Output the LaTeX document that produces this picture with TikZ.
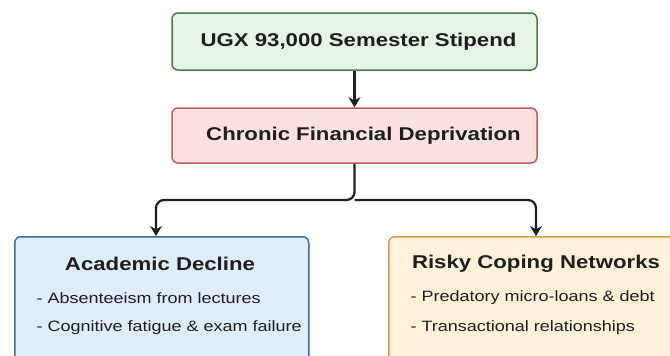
\documentclass[tikz,border=0pt]{standalone}
\usepackage{fontspec}
\setmainfont[FakeStretch=1.2]{Liberation Sans}
\usetikzlibrary{arrows.meta}
\definecolor{stgreen}{HTML}{E6F4E5}
\definecolor{dkgreen}{HTML}{4B7A50}
\definecolor{stred}{HTML}{FBE1E1}
\definecolor{dkred}{HTML}{C25A5B}
\definecolor{stblue}{HTML}{DFECFA}
\definecolor{dkblue}{HTML}{3D6BA7}
\definecolor{stgold}{HTML}{FDF1DA}
\definecolor{dkgold}{HTML}{D3A14B}
\definecolor{inkgray}{HTML}{1E1E1E}

\begin{document}
\begin{tikzpicture}[
    x=1pt, y=1pt,
    >={Stealth[length=10pt, width=12pt]},
    every node/.style={text=inkgray},
    stagebox/.style={draw, line width=1.5pt, rounded corners=6pt,
      inner sep=0pt, font=\fontsize{18.5}{22}\selectfont\bfseries},
    outbox/.style={draw, line width=1.5pt, rounded corners=6pt, inner sep=0pt},
    outhead/.style={font=\fontsize{18.5}{22}\selectfont\bfseries},
    outlist/.style={font=\fontsize{15}{30}\selectfont, align=left, anchor=west},
    link/.style={->, line width=2.2pt, inkgray, rounded corners=8pt},
  ]

  % canvas (image is 670 x 356, y runs downwards)
  \clip (0,0) rectangle (670,-356);
  \fill[white] (0,0) rectangle (670,-356);

  % ------------------------------------------------------
  % top chain
  % ------------------------------------------------------
  \node[stagebox, fill=stgreen, draw=dkgreen, minimum width=365pt, minimum height=57pt]
    (stipend) at (354.5,-41.5) {\hspace{8pt}UGX 93,000 Semester Stipend};

  \node[stagebox, fill=stred, draw=dkred, minimum width=365pt, minimum height=55pt]
    (depriv) at (354.5,-135.5) {\hspace{18pt}Chronic Financial Deprivation};

  % ------------------------------------------------------
  % outcome boxes (run off the lower and right edges)
  % ------------------------------------------------------
  \node[outbox, fill=stblue, draw=dkblue, minimum width=294pt, minimum height=140pt,
        anchor=north west] (acad) at (14,-236) {};
  \node[outhead] (acadT) at (160,-264) {Academic Decline};
  \node[outlist] (acadL1) at (33,-298) {- Absenteeism from lectures};
  \node[outlist] (acadL2) at (33,-328) {- Cognitive fatigue \& exam failure};

  \node[outbox, fill=stgold, draw=dkgold, minimum width=310pt, minimum height=140pt,
        anchor=north west] (risky) at (388,-236) {};
  \node[outhead] (riskyT) at (536,-264) {Risky Coping Networks};
  \node[outlist] (riskyL1) at (407,-298) {- Predatory micro-loans \& debt};
  \node[outlist] (riskyL2) at (407,-328) {- Transactional relationships};

  % ------------------------------------------------------
  % connectors
  % ------------------------------------------------------
  \coordinate (split) at (354.5,-200);
  \draw[link] (stipend.south) -- (depriv.north);
  \draw[link] (depriv.south) -- (split) -| (156,-236);
  \draw[link] (split) -| (536,-236);

\end{tikzpicture}
\end{document}
